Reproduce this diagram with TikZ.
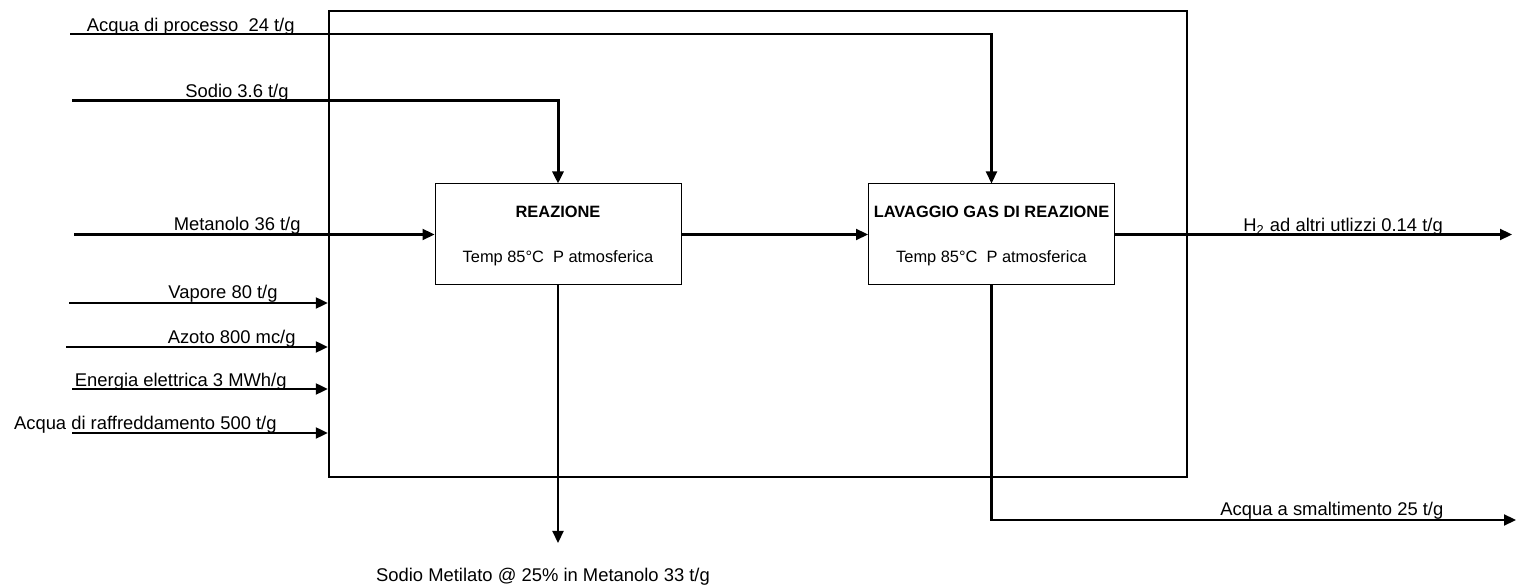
\documentclass[tikz,border=0pt]{standalone}
\usepackage{fontspec}
\setmainfont{Liberation Sans}
\usetikzlibrary{arrows.meta}
\begin{document}
\begin{tikzpicture}[x=0.5pt,y=-0.5pt,
  flow/.style={line width=1.1pt,-{Triangle[length=6pt,width=5.5pt]}},
  unit/.style={draw,line width=0.5pt,minimum width=123pt,minimum height=50.5pt,inner sep=0pt},
  plantbox/.style={draw,line width=1.2pt,minimum width=429pt,minimum height=233pt,inner sep=0pt},
  lbl/.style={font=\fontsize{9.2}{11}\selectfont,inner sep=0pt},
  boxtxt/.style={font=\fontsize{8.2}{10}\selectfont,inner sep=0pt,anchor=base}]
\useasboundingbox (0,0) rectangle (1517,587);

% plant boundary and the two process units
\node[plantbox] (plant) at (758,244) {};
\node[unit] (reaz) at (558,234.5) {};
\node[unit] (lav) at (991.5,234.5) {};
\node[boxtxt] (reazT) at (558,218) {\textbf{REAZIONE}};
\node[boxtxt] (reazC) at (558,263) {Temp 85°C~~P atmosferica};
\node[boxtxt] (lavT) at (991.5,218) {\textbf{LAVAGGIO GAS DI REAZIONE}};
\node[boxtxt] (lavC) at (991.5,263) {Temp 85°C~~P atmosferica};

% free ends of the streams
\coordinate (acqP) at (70,34);
\coordinate (sod) at (72,101);
\coordinate (met) at (74,234.5);
\coordinate (vap) at (69,303);
\coordinate (azo) at (66,347);
\coordinate (ene) at (72,389);
\coordinate (acqR) at (72,433);
\coordinate (h2) at (1512,234.5);
\coordinate (smal) at (1516,520);
\coordinate (sme) at (558,543);

% inlet streams
\draw[flow] (acqP) -| (lav.north);
\draw[flow,line width=1.5pt] (sod) -| (reaz.north);
\draw[flow] (met) -- (reaz.west);
\draw[flow] (vap) -- (vap -| plant.west);
\draw[flow] (azo) -- (azo -| plant.west);
\draw[flow] (ene) -- (ene -| plant.west);
\draw[flow] (acqR) -- (acqR -| plant.west);

% internal and outlet streams
\draw[flow] (reaz.east) -- (lav.west);
\draw[flow] (lav.east) -- (h2);
\draw[flow] (lav.south) |- (smal);
\draw[flow] (reaz.south) -- (sme);

% stream labels
\node[lbl,anchor=base east] (lAcqP) at (295,32) {Acqua di processo~~24 t/g};
\node[lbl,anchor=base east] (lSod) at (289,98) {Sodio 3.6 t/g};
\node[lbl,anchor=base east] (lMet) at (301,231) {Metanolo 36 t/g};
\node[lbl,anchor=base east] (lVap) at (278,299) {Vapore 80 t/g};
\node[lbl,anchor=base east] (lAzo) at (296,344) {Azoto 800 mc/g};
\node[lbl,anchor=base east] (lEne) at (287,386.5) {Energia elettrica 3 MWh/g};
\node[lbl,anchor=base east] (lAcqR) at (277,430) {Acqua di raffreddamento 500 t/g};
\node[lbl,anchor=base west] (lH2) at (1243,231.5) {H\textsubscript{2} ad altri utlizzi 0.14 t/g};
\node[lbl,anchor=base west] (lSmal) at (1220,516) {Acqua a smaltimento 25 t/g};
\node[lbl,anchor=base] (lSme) at (543,582) {Sodio Metilato @ 25\% in Metanolo 33 t/g};
\end{tikzpicture}
\end{document}
